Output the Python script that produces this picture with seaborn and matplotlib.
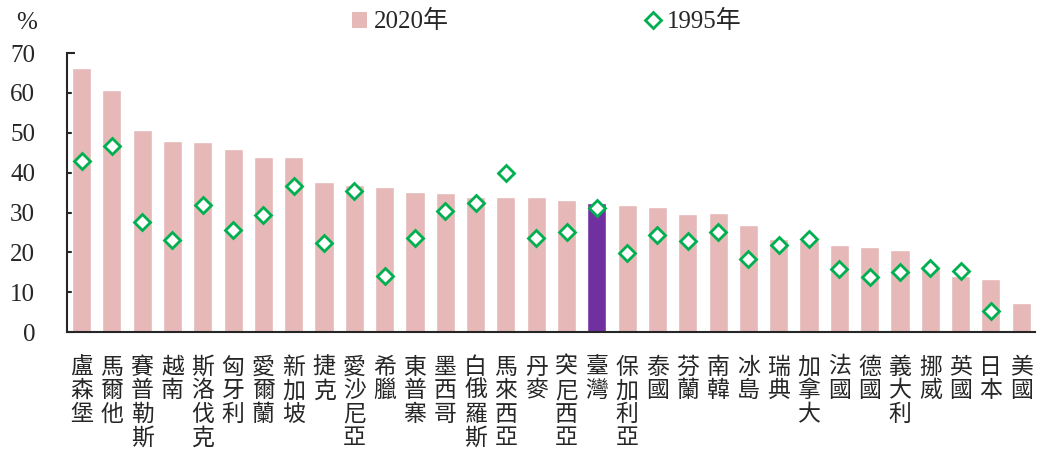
"""Trade share chart: 2020 vs 1995"""
import seaborn as sns
import matplotlib
matplotlib.use('Agg')
import matplotlib.pyplot as plt
from matplotlib import font_manager
from matplotlib.patches import Patch
from matplotlib.lines import Line2D
import pandas as pd
import numpy as np

countries = ['盧森堡', '馬爾他', '賽普勒斯', '越南', '斯洛伐克', '匈牙利', '愛爾蘭', '新加坡',
             '捷克', '愛沙尼亞', '希臘', '東普寨', '墨西哥', '白俄羅斯', '馬來西亞', '丹麥',
             '突尼西亞', '臺灣', '保加利亞', '泰國', '芬蘭', '南韓', '冰島', '瑞典',
             '加拿大', '法國', '德國', '義大利', '挪威', '英國', '日本', '美國']
v2020 = [66.2, 60.8, 50.6, 47.9, 47.6, 45.9, 43.8, 43.8,
         37.6, 36.9, 36.4, 35.1, 35.0, 33.9, 33.8, 33.8,
         33.1, 32.4, 31.9, 31.4, 29.7, 29.8, 26.9, 23.4,
         23.0, 21.8, 21.4, 20.7, 16.3, 14.2, 13.3, 7.4]
v1995 = [42.9, 46.6, 27.7, 23.1, 32.0, 25.5, 29.4, 36.7,
         22.3, 35.4, 14.1, 23.6, 30.3, 32.4, 39.9, 23.6,
         25.2, 31.1, 19.8, 24.4, 22.9, 25.1, 18.3, 21.8,
         23.4, 15.8, 13.9, 15.2, 16.2, 15.4, 5.4, np.nan]
highlight = '臺灣'

bar_color = '#E6B8B7'
hl_color = '#7030A0'
dia_color = '#00B050'


def serif_name():
    # register Liberation Serif explicitly so it is really used
    for f in font_manager.findSystemFonts():
        if 'LiberationSerif-Regular' in f:
            font_manager.fontManager.addfont(f)
            return font_manager.FontProperties(fname=f).get_name()
    return 'DejaVu Serif'


def main():
    df = pd.DataFrame({'country': countries, 'y2020': v2020, 'y1995': v1995})
    sns.set_style('ticks')
    serif = serif_name()
    plt.rcParams['font.family'] = [serif, 'Noto Sans CJK TC']

    fig = plt.figure(figsize=(10.38, 4.55), dpi=100)
    ax = fig.add_axes([0.0645, 0.270, 0.9325, 0.6135])

    palette = {c: (hl_color if c == highlight else bar_color) for c in countries}
    sns.barplot(data=df, x='country', y='y2020', hue='country', palette=palette,
                order=countries, width=0.63, legend=False, ax=ax, saturation=1)
    sns.pointplot(data=df, x='country', y='y1995', order=countries, linestyle='none',
                  marker='D', markersize=8, markerfacecolor='white',
                  markeredgecolor=dia_color, markeredgewidth=2, color=dia_color, ax=ax)

    ax.set_ylim(0, 70)
    ax.set_xlim(-0.48, 31.45)
    ax.set_yticks(range(0, 71, 10))
    ax.set_xlabel('')
    ax.set_ylabel('')
    ax.set_xticks(range(len(countries)))
    ax.set_xticklabels(['\n'.join(c) for c in countries], family='Noto Sans CJK TC',
                       fontsize=16.5, linespacing=1.03, va='top')
    ax.tick_params(axis='y', direction='in', length=6, width=1.5, labelsize=18, pad=23)
    ax.tick_params(axis='x', length=0, pad=17)
    sns.despine(ax=ax)
    ax.spines['left'].set_linewidth(1.5)
    ax.spines['bottom'].set_linewidth(1.5)

    fig.text(27 / 1038, 1 - 23 / 455, '%', ha='center', va='center', fontsize=18)

    handles = [Patch(facecolor=bar_color, edgecolor='none'),
               Line2D([], [], linestyle='none', marker='D', markersize=8,
                      markerfacecolor='white', markeredgecolor=dia_color, markeredgewidth=2)]
    fig.legend(handles, ['2020年', '1995年'], loc='center', bbox_to_anchor=(0.527, 0.952),
               ncol=2, frameon=False, fontsize=18, columnspacing=7.9, handletextpad=0.25,
               handlelength=0.6, handleheight=0.6)

    fig.savefig('out.png', dpi=100)


if __name__ == "__main__":
    main()
